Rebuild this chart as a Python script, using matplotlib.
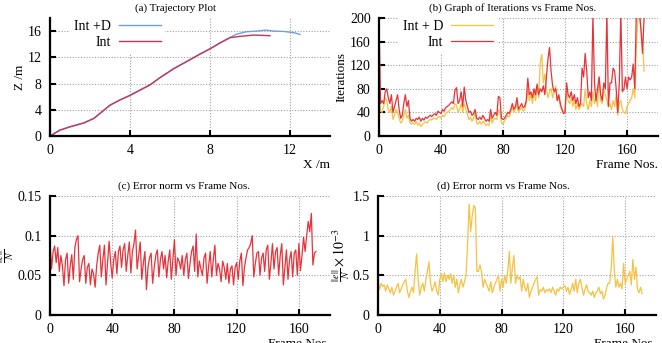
import matplotlib
matplotlib.use("Agg")
import matplotlib.pyplot as plt
import numpy as np

plt.rcParams["font.family"] = ["Liberation Serif", "DejaVu Serif"]
plt.rcParams["mathtext.fontset"] = "stix"

# ---- (a) trajectory data ----
traj_x_int = [0, 0.5, 1.0, 1.7, 2.2, 2.6, 3.0, 3.5, 4.0, 4.5, 5.0, 5.5, 6.2, 6.8,
              7.5, 8.0, 8.5, 9.0, 9.5, 10.2, 11.0]
traj_z_int = [0, 0.9, 1.4, 2.0, 2.7, 3.7, 4.7, 5.5, 6.2, 7.0, 7.8, 8.9, 10.3, 11.3,
              12.5, 13.3, 14.2, 15.0, 15.2, 15.4, 15.3]
traj_x_intd = [0, 0.5, 1.0, 1.7, 2.2, 2.6, 3.0, 3.5, 4.0, 4.5, 5.0, 5.5, 6.2, 6.8,
               7.5, 8.0, 8.4, 8.8, 9.3, 9.8, 10.3, 10.8, 11.2, 11.7, 12.2, 12.5]
traj_z_intd = [0, 0.9, 1.4, 2.0, 2.7, 3.7, 4.7, 5.5, 6.2, 7.0, 7.8, 8.9, 10.3, 11.3,
               12.5, 13.3, 14.0, 14.7, 15.5, 15.9, 16.0, 16.15, 16.0, 15.95, 15.75, 15.5]

# ---- (b) iterations per frame ----
iter_int = [200, 55, 60, 55, 75, 80, 65, 55, 70, 40,
            50, 60, 70, 45, 30, 35, 55, 70, 50, 60,
            30, 25, 28, 25, 30, 28, 32, 25, 30, 27,
            32, 30, 33, 35, 33, 36, 38, 35, 42, 40,
            38, 45, 42, 48, 50, 52, 55, 58, 55, 78,
            82, 55, 60, 75, 50, 83, 60, 50, 40, 42,
            35, 38, 45, 30, 28, 32, 28, 35, 30, 25,
            28, 25, 45, 30, 35, 40, 35, 67, 65, 30,
            28, 30, 35, 40, 38, 45, 55, 45, 50, 65,
            45, 50, 55, 48, 50, 60, 98, 70, 75, 65,
            80, 70, 88, 70, 80, 75, 85, 70, 100, 130,
            150, 110, 85, 75, 80, 60, 70, 55, 45, 38,
            40, 90, 70, 65, 75, 60, 70, 55, 65, 50,
            55, 115, 100, 140, 110, 65, 75, 60, 205, 90,
            60, 80, 100, 70, 60, 90, 80, 210, 50, 90,
            90, 115, 110, 80, 40, 90, 210, 75, 80, 100,
            80, 100, 95, 100, 122, 80, 210, 210, 210, 180,
            140, 200]
iter_intd = [75, 42, 40, 50, 65, 60, 45, 40, 50, 28,
             35, 45, 40, 30, 22, 25, 35, 45, 30, 35,
             22, 20, 22, 20, 25, 18, 22, 16, 20, 22,
             24, 22, 26, 28, 27, 30, 30, 28, 32, 33,
             30, 35, 33, 38, 40, 42, 45, 48, 45, 55,
             52, 40, 45, 55, 40, 55, 45, 38, 28, 32,
             25, 30, 40, 22, 20, 25, 20, 25, 22, 18,
             20, 18, 35, 22, 28, 30, 28, 45, 40, 22,
             20, 25, 30, 35, 32, 40, 50, 40, 45, 55,
             40, 45, 48, 42, 45, 55, 80, 60, 70, 55,
             75, 60, 85, 65, 125, 138, 90, 105, 80, 65,
             75, 80, 65, 75, 85, 60, 65, 50, 45, 40,
             45, 75, 60, 55, 65, 50, 60, 45, 55, 45,
             50, 55, 50, 80, 55, 45, 60, 50, 75, 55,
             65, 50, 100, 60, 55, 80, 70, 60, 50, 55,
             45, 60, 50, 70, 35, 55, 60, 45, 40, 38,
             50, 55, 60, 65, 80, 65, 150, 200, 210, 180,
             160, 110]

# ---- (c) error norm, Int ----
err_int = [0.092, 0.058, 0.080, 0.087, 0.066, 0.085, 0.055, 0.075, 0.062, 0.037,
           0.070, 0.078, 0.040, 0.062, 0.076, 0.045, 0.085, 0.095, 0.100, 0.042,
           0.058, 0.070, 0.075, 0.040, 0.060, 0.065, 0.038, 0.058, 0.052, 0.035,
           0.062, 0.078, 0.088, 0.048, 0.070, 0.088, 0.038, 0.065, 0.093, 0.066,
           0.047, 0.070, 0.080, 0.052, 0.080, 0.087, 0.060, 0.082, 0.090, 0.055,
           0.075, 0.092, 0.053, 0.080, 0.090, 0.107, 0.058, 0.075, 0.092, 0.045,
           0.065, 0.080, 0.032, 0.060, 0.072, 0.078, 0.040, 0.060, 0.075, 0.082,
           0.048, 0.070, 0.080, 0.058, 0.075, 0.047, 0.068, 0.082, 0.045, 0.070,
           0.095, 0.050, 0.072, 0.068, 0.058, 0.075, 0.050, 0.070, 0.078, 0.046,
           0.065, 0.080, 0.087, 0.055, 0.102, 0.048, 0.068, 0.058, 0.050, 0.072,
           0.078, 0.040, 0.062, 0.080, 0.048, 0.070, 0.088, 0.050, 0.065, 0.058,
           0.042, 0.068, 0.060, 0.045, 0.065, 0.040, 0.058, 0.062, 0.038, 0.060,
           0.066, 0.045, 0.068, 0.078, 0.037, 0.060, 0.072, 0.082, 0.085, 0.090,
           0.100, 0.048, 0.065, 0.078, 0.080, 0.050, 0.072, 0.078, 0.055, 0.082,
           0.088, 0.045, 0.065, 0.090, 0.058, 0.080, 0.085, 0.050, 0.075, 0.090,
           0.038, 0.060, 0.082, 0.045, 0.070, 0.080, 0.048, 0.078, 0.082, 0.050,
           0.090, 0.056, 0.075, 0.098, 0.080, 0.100, 0.118, 0.105, 0.128, 0.063,
           0.078, 0.080]

# ---- (d) error norm, Int + D (x 10^-3) ----
err_intd = [0.45, 0.32, 0.40, 0.36, 0.38, 0.30, 0.38, 0.33, 0.28, 0.35,
            0.25, 0.30, 0.35, 0.40, 0.28, 0.33, 0.38, 0.42, 0.45, 0.30,
            0.22, 0.30, 0.35, 0.28, 0.55, 0.77, 0.45, 0.25, 0.35, 0.40,
            0.30, 0.45, 0.55, 0.67, 0.40, 0.30, 0.35, 0.42, 0.30, 0.25,
            0.45, 0.52, 0.42, 0.53, 0.42, 0.50, 0.45, 0.52, 0.40, 0.50,
            0.35, 0.45, 0.28, 0.38, 0.45, 0.35, 0.42, 0.50, 0.90, 1.40,
            1.05, 1.25, 1.38, 1.35, 0.55, 0.55, 0.63, 0.55, 0.35, 0.45,
            0.40, 0.35, 0.30, 0.42, 0.28, 0.35, 0.40, 0.45, 0.50, 0.30,
            0.45, 0.35, 0.50, 0.40, 0.55, 0.80, 0.40, 0.60, 0.75, 0.40,
            0.50, 0.45, 0.48, 0.30, 0.45, 0.35, 0.30, 0.40, 0.22, 0.30,
            0.35, 0.40, 0.45, 0.48, 0.25, 0.32, 0.30, 0.35, 0.28, 0.32,
            0.30, 0.33, 0.28, 0.35, 0.30, 0.25, 0.33, 0.30, 0.35, 0.33,
            0.35, 0.37, 0.30, 0.35, 0.26, 0.32, 0.40, 0.30, 0.45, 0.28,
            0.40, 0.45, 0.35, 0.25, 0.32, 0.38, 0.30, 0.28, 0.25, 0.30,
            0.22, 0.28, 0.30, 0.35, 0.27, 0.30, 0.20, 0.25, 0.35, 0.40,
            0.40, 0.60, 0.98, 0.55, 0.35, 0.45, 0.35, 0.40, 0.33, 0.65,
            0.40, 0.45, 0.50, 0.55, 0.38, 0.70, 0.45, 0.60, 0.32, 0.28,
            0.35, 0.27]

frames = np.arange(len(iter_int))

RED = "#e8323a"
CRIMSON = "#c8345a"
BLUE = "#6f9fdf"
YELLOW = "#f5c242"


def style(ax, title, tx):
    # gnuplot look: thick left/bottom border, dotted grid, inward ticks
    for s in ["top", "right"]:
        ax.spines[s].set_visible(False)
    for s in ["left", "bottom"]:
        ax.spines[s].set_linewidth(1.6)
    ax.grid(True, color="#a0a0a0", linestyle=(0, (1, 1.5)), linewidth=0.8)
    ax.set_axisbelow(True)
    ax.tick_params(direction="in", length=4, width=1.5, labelsize=10, pad=6)
    ax.set_title(title, fontsize=8, x=tx, pad=5)


def legend(ax, anchor):
    lg = ax.legend(loc="upper left", bbox_to_anchor=anchor, markerfirst=False,
                   fontsize=10, handlelength=3.0, handletextpad=0.6,
                   labelspacing=0.2, borderpad=0.3, borderaxespad=0,
                   frameon=True, fancybox=False, framealpha=1)
    lg.get_frame().set_edgecolor("none")
    lg.get_frame().set_facecolor("white")


fig = plt.figure(figsize=(6.62, 3.43), dpi=100)

# (a)
ax1 = fig.add_axes([0.0755, 0.6035, 0.423, 0.344])
ax1.plot(traj_x_intd, traj_z_intd, color=BLUE, lw=1.0, label="Int +D")
ax1.plot(traj_x_int, traj_z_int, color=CRIMSON, lw=1.0, label="Int")
ax1.set_xlim(0, 14)
ax1.set_ylim(0, 18)
ax1.set_xticks([0, 4, 8, 12])
ax1.set_yticks([0, 4, 8, 12, 16])
style(ax1, "(a) Trajectory Plot", 0.45)
ax1.set_xlabel("X /m", fontsize=9.5, loc="right", labelpad=1)
ax1.set_ylabel("Z /m", fontsize=9.5, labelpad=1)
legend(ax1, (0.07, 1.02))

# (b)
ax2 = fig.add_axes([0.5725, 0.6035, 0.4215, 0.344])
ax2.plot(frames, iter_intd, color=YELLOW, lw=0.9, label="Int + D")
ax2.plot(frames, iter_int, color=RED, lw=0.9, label="Int")
ax2.set_xlim(0, 180)
ax2.set_ylim(0, 200)
ax2.set_xticks([0, 40, 80, 120, 160])
ax2.set_yticks([0, 40, 80, 120, 160, 200])
style(ax2, "(b) Graph of Iterations vs Frame Nos.", 0.48)
ax2.set_xlabel("Frame Nos.", fontsize=9.5, loc="right", labelpad=1)
ax2.set_ylabel("Iterations", fontsize=9.5, labelpad=2)
legend(ax2, (0.07, 1.02))

# (c)
ax3 = fig.add_axes([0.0755, 0.0816, 0.423, 0.347])
ax3.plot(frames, err_int, color=RED, lw=0.9)
ax3.set_xlim(0, 180)
ax3.set_ylim(0, 0.15)
ax3.set_xticks([0, 40, 80, 120, 160])
ax3.set_yticks([0, 0.05, 0.1, 0.15])
ax3.set_yticklabels(["0", "0.05", "0.1", "0.15"])
style(ax3, "(c) Error norm vs Frame Nos.", 0.48)
ax3.set_xlabel("Frame Nos.", fontsize=9.5, loc="right", labelpad=1)
ax3.set_ylabel(r"$\frac{||e||}{N}$", fontsize=10)
ax3.yaxis.set_label_coords(-0.12, 0.5)

# (d)
ax4 = fig.add_axes([0.571, 0.0816, 0.42, 0.347])
ax4.plot(frames, err_intd, color=YELLOW, lw=0.9)
ax4.set_xlim(0, 180)
ax4.set_ylim(0, 1.5)
ax4.set_xticks([0, 40, 80, 120, 160])
ax4.set_yticks([0, 0.5, 1, 1.5])
ax4.set_yticklabels(["0", "0.5", "1", "1.5"])
style(ax4, "(d) Error norm vs Frame Nos.", 0.45)
ax4.set_xlabel("Frame Nos.", fontsize=9.5, loc="right", labelpad=1)
ax4.set_ylabel(r"$\frac{||e||}{N}\times10^{-3}$", fontsize=10, labelpad=0)

fig.savefig("out.png", dpi=100)
